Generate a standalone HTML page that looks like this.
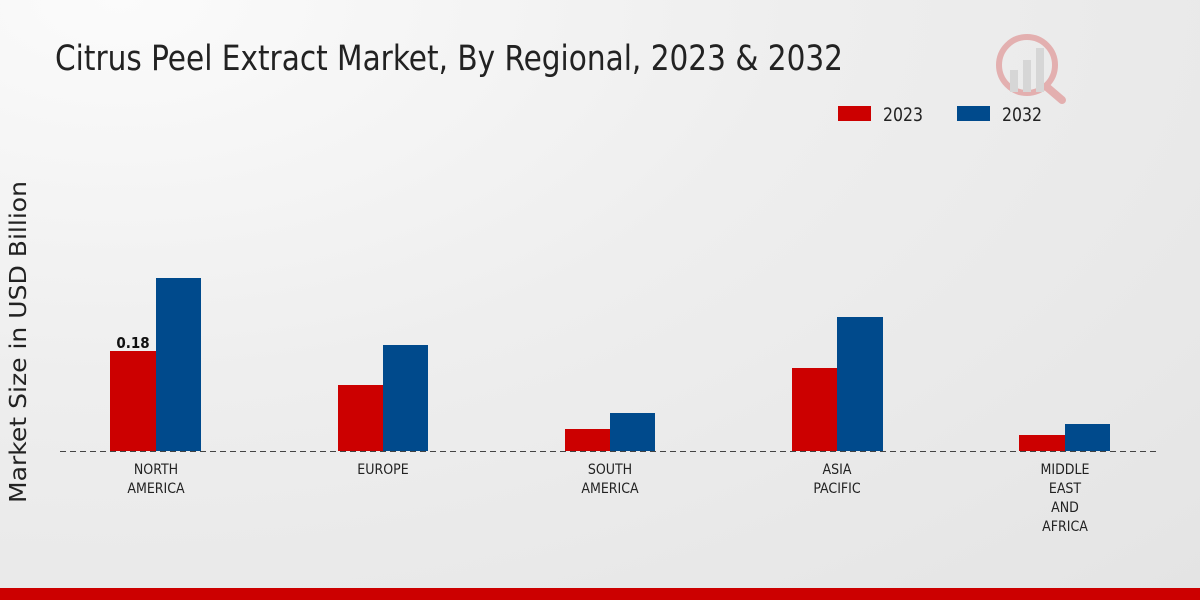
<!DOCTYPE html>
<html><head><meta charset="utf-8"><style>
html,body{margin:0;padding:0}
body{width:1200px;height:600px;overflow:hidden;background:radial-gradient(ellipse at 10% 0%,#fbfbfb 0%,#eeeeee 45%,#e4e4e4 100%);font-family:"DejaVu Sans Condensed","DejaVu Sans","Liberation Sans",sans-serif;position:relative}
</style></head><body>
<svg width="1200" height="600" style="position:absolute;left:0;top:0">
<text x="55" y="70" font-size="35" fill="#222" font-family="DejaVu Sans Condensed, DejaVu Sans, sans-serif" textLength="788" lengthAdjust="spacingAndGlyphs">Citrus Peel Extract Market, By Regional, 2023 &amp; 2032</text>
<rect x="838" y="106" width="33" height="15" fill="#cc0000"/>
<text x="883" y="121" font-size="19" fill="#222" textLength="40" lengthAdjust="spacingAndGlyphs">2023</text>
<rect x="957" y="106" width="33" height="15" fill="#004a8c"/>
<text x="1002" y="121" font-size="19" fill="#222" textLength="40" lengthAdjust="spacingAndGlyphs">2032</text>
<text transform="translate(26,342) rotate(-90)" font-size="23" fill="#222" text-anchor="middle" font-family="DejaVu Sans, sans-serif" textLength="322" lengthAdjust="spacingAndGlyphs">Market Size in USD Billion</text>
<g fill="#cc0000">
<rect x="110" y="351" width="46" height="100"/>
<rect x="338" y="385" width="45" height="66"/>
<rect x="565" y="429" width="45" height="22"/>
<rect x="792" y="368" width="45" height="83"/>
<rect x="1019" y="435" width="46" height="16"/>
</g>
<g fill="#004a8c">
<rect x="156" y="278" width="45" height="173"/>
<rect x="383" y="345" width="45" height="106"/>
<rect x="610" y="413" width="45" height="38"/>
<rect x="837" y="317" width="46" height="134"/>
<rect x="1065" y="424" width="45" height="27"/>
</g>
<line x1="60" y1="451.5" x2="1160" y2="451.5" stroke="#444" stroke-dasharray="6,4" stroke-width="1"/>
<text x="133" y="348" font-size="15" font-weight="bold" fill="#111" text-anchor="middle">0.18</text>
<g font-size="14" fill="#222" text-anchor="middle">
<text x="156" y="474">NORTH</text><text x="156" y="493">AMERICA</text>
<text x="383" y="474">EUROPE</text>
<text x="610" y="474">SOUTH</text><text x="610" y="493">AMERICA</text>
<text x="837" y="474">ASIA</text><text x="837" y="493">PACIFIC</text>
<text x="1065" y="474">MIDDLE</text><text x="1065" y="493">EAST</text><text x="1065" y="512">AND</text><text x="1065" y="531">AFRICA</text>
</g>
<g opacity="0.25">
<circle cx="1027" cy="65" r="28" fill="none" stroke="#cc0000" stroke-width="6"/>
<rect x="1010" y="70" width="8" height="22" fill="#999"/>
<rect x="1023" y="60" width="8" height="32" fill="#999"/>
<rect x="1036" y="48" width="8" height="44" fill="#999"/>
<line x1="1048" y1="88" x2="1062" y2="100" stroke="#cc0000" stroke-width="8" stroke-linecap="round"/>
</g>
<rect x="0" y="588" width="1200" height="12" fill="#cc0000"/>
</svg>
</body></html>
